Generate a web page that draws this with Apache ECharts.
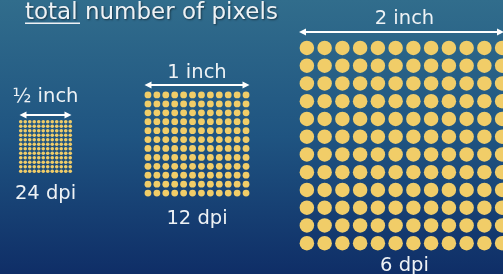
<!DOCTYPE html>
<html lang="en">
  <head>
    <meta charset="UTF-8" />
    <title>total number of pixels</title>
    <script src="https://cdn.jsdelivr.net/npm/echarts@6/dist/echarts.min.js"></script>
    <style>
      * {
        margin: 0;
        padding: 0;
      }
    </style>
  </head>
  <body>
    <div id="charts" style="width: 503px; height: 274px"></div>
    <script>
      // data
      var sizeLabels = ["½ inch", "1 inch", "2 inch"];
      var dpiLabels = ["24 dpi", "12 dpi", "6 dpi"];
      var pixelsPerSide = [12, 12, 12];

      // layout (px)
      var boxes = [
        { left: 18.5, top: 119.5, size: 54 },
        { left: 143.5, top: 90.5, size: 107 },
        { left: 298, top: 39, size: 213 },
      ];
      var dotSizes = [3.6, 6.8, 14.5];
      var arrowGaps = [4.5, 5.5, 7];
      var labelGaps = [18.5, 12, 13.5];
      var nameGaps = [10, 11, 4];

      var textColor = "#eef2f5";
      var dotColor = "#f1cd68";
      var font = "DejaVu Sans";

      var myEcharts = echarts.init(document.getElementById("charts"));
      var grids = [], xAxes = [], yAxes = [], series = [];

      boxes.forEach(function (box, i) {
        var n = pixelsPerSide[i];
        var points = [];
        for (var r = 0; r < n; r++) {
          for (var c = 0; c < n; c++) {
            points.push([c, r]);
          }
        }
        grids.push({
          left: box.left,
          top: box.top,
          width: box.size,
          height: box.size,
          outerBoundsMode: "none",
        });
        xAxes.push({
          gridIndex: i,
          type: "value",
          min: -0.5,
          max: n - 0.5,
          axisLine: { show: false },
          axisTick: { show: false },
          axisLabel: { show: false },
          splitLine: { show: false },
          name: dpiLabels[i],
          nameLocation: "middle",
          nameGap: nameGaps[i],
          nameTextStyle: { color: textColor, fontSize: 19.5, fontFamily: font },
        });
        yAxes.push({ gridIndex: i, type: "value", min: -0.5, max: n - 0.5, show: false });
        series.push({
          type: "scatter",
          xAxisIndex: i,
          yAxisIndex: i,
          clip: false,
          silent: true,
          symbolSize: dotSizes[i],
          itemStyle: { color: dotColor, opacity: 1 },
          data: points,
        });
      });

      var options = {
        backgroundColor: {
          type: "linear",
          x: 0,
          y: 0,
          x2: 0,
          y2: 1,
          colorStops: [
            { offset: 0, color: "#316d8c" },
            { offset: 0.5, color: "#1f5481" },
            { offset: 1, color: "#0f2e67" },
          ],
        },
        animation: false,
        title: {
          text: "total number of pixels",
          left: 20,
          top: -3,
          textStyle: {
            color: textColor,
            fontSize: 23,
            fontWeight: "normal",
            fontFamily: font,
            textShadowColor: "rgba(0,0,0,0.5)",
            textShadowBlur: 2,
            textShadowOffsetX: 1,
            textShadowOffsetY: 1,
          },
        },
        grid: grids,
        xAxis: xAxes,
        yAxis: yAxes,
        series: series,
      };
      myEcharts.setOption(options);

      // width arrows + size labels, placed from the axes
      var graphics = [
        {
          type: "rect",
          left: 25,
          top: 22.5,
          shape: { width: 55, height: 1.5 },
          style: { fill: textColor },
        },
      ];
      var maxX = myEcharts.getWidth() + 1;
      boxes.forEach(function (box, i) {
        var n = pixelsPerSide[i];
        var a = myEcharts.convertToPixel({ gridIndex: i }, [-0.5, n - 0.5]);
        var b = myEcharts.convertToPixel({ gridIndex: i }, [n - 0.5, n - 0.5]);
        var y = a[1] - arrowGaps[i];
        var x1 = a[0] + 1, x2 = Math.min(b[0] - 1, maxX);
        graphics.push({
          type: "line",
          shape: { x1: x1 + 4, y1: y, x2: x2 - 4, y2: y },
          style: { stroke: "#ffffff", lineWidth: 2 },
        });
        graphics.push({
          type: "polygon",
          shape: { points: [[x1, y], [x1 + 7, y - 3.5], [x1 + 7, y + 3.5]] },
          style: { fill: "#ffffff" },
        });
        graphics.push({
          type: "polygon",
          shape: { points: [[x2, y], [x2 - 7, y - 3.5], [x2 - 7, y + 3.5]] },
          style: { fill: "#ffffff" },
        });
        graphics.push({
          type: "text",
          x: (a[0] + b[0]) / 2,
          y: y - labelGaps[i],
          style: {
            text: sizeLabels[i],
            fill: textColor,
            fontSize: 19.5,
            fontFamily: font,
            textAlign: "center",
            textVerticalAlign: "middle",
            align: "center",
            verticalAlign: "middle",
          },
        });
      });
      myEcharts.setOption({ graphic: graphics });
    </script>
  </body>
</html>
